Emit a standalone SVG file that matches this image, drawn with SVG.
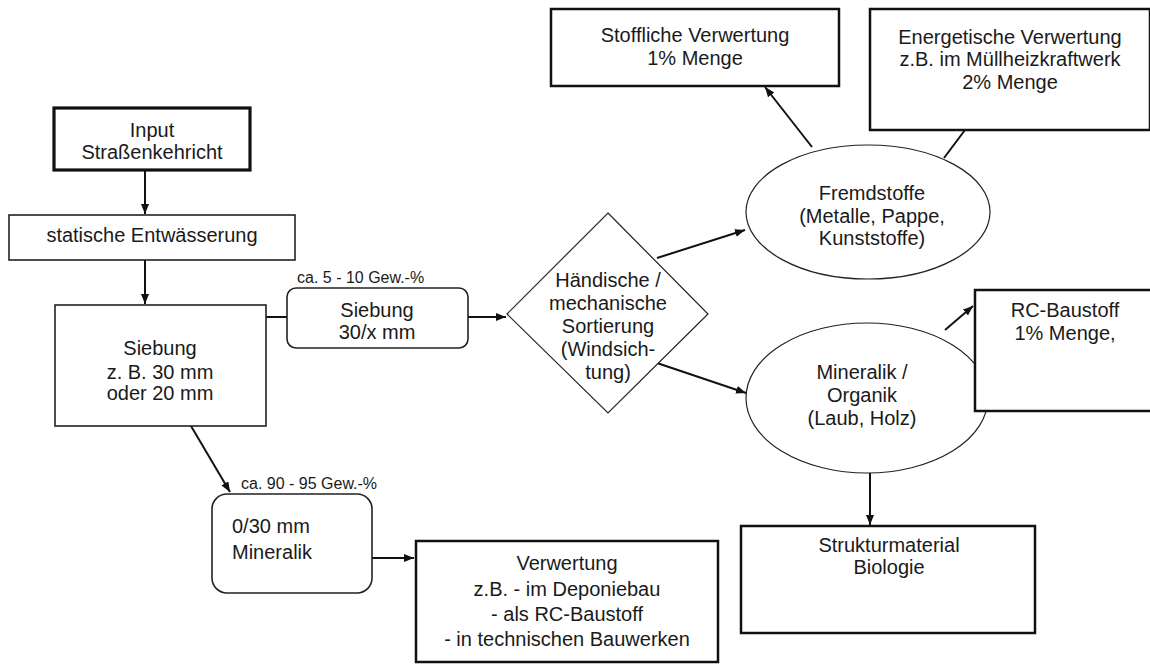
<svg xmlns="http://www.w3.org/2000/svg" width="1150" height="664" viewBox="0 0 1150 664">
<style>
text{font-family:"Liberation Sans",Arial,sans-serif;font-size:20px;fill:#1a1a1a;text-anchor:middle}
.sm{font-size:16px;text-anchor:start}
.lt{text-anchor:start}
.box{fill:#fff;stroke:#111;stroke-width:2.5}
.thin{fill:#fff;stroke:#222;stroke-width:1.6}
.thick{fill:#fff;stroke:#111;stroke-width:3.2}
.ell{fill:#fff;stroke:#222;stroke-width:1.2}
.c{fill:none;stroke:#111;stroke-width:2}
</style>
<defs>
<marker id="ah" markerUnits="userSpaceOnUse" markerWidth="11" markerHeight="9" refX="10" refY="4" orient="auto">
<path d="M0,0 L10,4 L0,8 z" fill="#111"/>
</marker>
</defs>
<rect width="1150" height="664" fill="#fff"/>
<g id="connectors">
<line class="c" x1="145" y1="170" x2="145" y2="214" marker-end="url(#ah)"/>
<line class="c" x1="145" y1="260" x2="145" y2="304" marker-end="url(#ah)"/>
<line class="c" x1="266" y1="317" x2="287" y2="317"/>
<line class="c" x1="468" y1="317" x2="506" y2="317" marker-end="url(#ah)"/>
<line class="c" x1="657" y1="258" x2="745" y2="230" marker-end="url(#ah)"/>
<line class="c" x1="657" y1="363" x2="746" y2="393" marker-end="url(#ah)"/>
<line class="c" x1="812" y1="147" x2="765" y2="87" marker-end="url(#ah)"/>
<line class="c" x1="944" y1="158" x2="965" y2="130"/>
<line class="c" x1="945" y1="330" x2="973" y2="306" marker-end="url(#ah)"/>
<line class="c" x1="870" y1="473" x2="870" y2="525" marker-end="url(#ah)"/>
<line class="c" x1="191" y1="426" x2="230" y2="492" marker-end="url(#ah)"/>
<line class="c" x1="372" y1="558" x2="414" y2="558" marker-end="url(#ah)"/>
</g>
<g id="input">
<rect class="thick" x="54" y="108" width="196" height="62"/>
<text x="152" y="137">Input</text>
<text x="152" y="159">Straßenkehricht</text>
</g>
<g id="entwaesserung">
<rect class="thin" x="9" y="215" width="286" height="45"/>
<text x="152" y="242">statische Entwässerung</text>
</g>
<g id="siebung1">
<rect class="thin" x="55" y="305" width="211" height="121"/>
<text x="160" y="355">Siebung</text>
<text x="160" y="379">z. B. 30 mm</text>
<text x="160" y="400">oder 20 mm</text>
</g>
<g id="siebung2">
<rect class="thin" x="287" y="288" width="181" height="60" rx="9"/>
<text x="377" y="317">Siebung</text>
<text x="377" y="339">30/x mm</text>
<text class="sm" x="297" y="283">ca. 5 - 10 Gew.-%</text>
</g>
<g id="sortierung">
<polygon class="ell" points="608,213 708,314 608,413 507,314"/>
<text x="608" y="287">Händische /</text>
<text x="608" y="310">mechanische</text>
<text x="608" y="333">Sortierung</text>
<text x="608" y="356">(Windsich-</text>
<text x="608" y="379">tung)</text>
</g>
<g id="fremdstoffe">
<ellipse class="ell" cx="868" cy="212" rx="122" ry="67"/>
<text x="872" y="200">Fremdstoffe</text>
<text x="872" y="223">(Metalle, Pappe,</text>
<text x="872" y="245">Kunststoffe)</text>
</g>
<g id="stoffliche">
<rect class="box" x="551" y="9" width="288" height="77"/>
<text x="695" y="42">Stoffliche Verwertung</text>
<text x="695" y="65">1% Menge</text>
</g>
<g id="energetische">
<rect class="box" x="870" y="9" width="280" height="121"/>
<text x="1010" y="44">Energetische Verwertung</text>
<text x="1010" y="66">z.B. im Müllheizkraftwerk</text>
<text x="1010" y="89">2% Menge</text>
</g>
<g id="mineralik">
<ellipse class="ell" cx="867" cy="398" rx="121" ry="75"/>
<text x="862" y="379">Mineralik /</text>
<text x="862" y="402">Organik</text>
<text x="862" y="425">(Laub, Holz)</text>
</g>
<g id="rcbaustoff">
<rect class="box" x="975" y="290" width="178" height="121"/>
<text x="1065" y="317">RC-Baustoff</text>
<text x="1065" y="340">1% Menge,</text>
</g>
<g id="struktur">
<rect class="box" x="741" y="526" width="294" height="107"/>
<text x="889" y="552">Strukturmaterial</text>
<text x="889" y="574">Biologie</text>
</g>
<g id="mineralik030">
<rect class="thin" x="212" y="494" width="160" height="99" rx="15"/>
<text class="lt" x="232" y="533">0/30 mm</text>
<text class="lt" x="232" y="559">Mineralik</text>
<text class="sm" x="241" y="489">ca. 90 - 95 Gew.-%</text>
</g>
<g id="verwertung">
<rect class="box" x="416" y="541" width="302" height="121"/>
<text x="567" y="570">Verwertung</text>
<text x="567" y="596">z.B. - im Deponiebau</text>
<text x="567" y="621">- als RC-Baustoff</text>
<text x="567" y="646">- in technischen Bauwerken</text>
</g>
</svg>
